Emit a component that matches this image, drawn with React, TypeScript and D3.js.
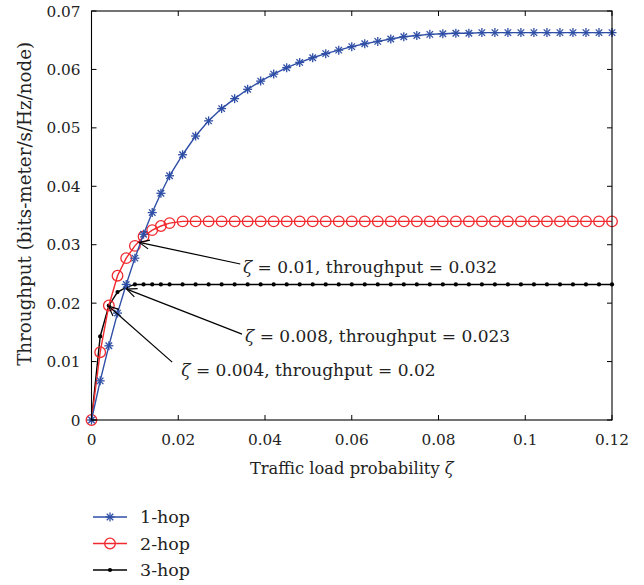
import React from 'react';
import * as d3 from 'd3';

// traffic load probability samples (x)
const loads = [
  0, 0.002, 0.004, 0.006, 0.008, 0.01, 0.012, 0.014, 0.016, 0.018,
  0.021, 0.024, 0.027, 0.03, 0.033, 0.036, 0.039, 0.042, 0.045, 0.048,
  0.051, 0.054, 0.057, 0.06, 0.063, 0.066, 0.069, 0.072, 0.075, 0.078,
  0.081, 0.084, 0.087, 0.09, 0.093, 0.096, 0.099, 0.102, 0.105, 0.108,
  0.111, 0.114, 0.117, 0.12,
];

const hop1 = [
  0, 0.0067, 0.0127, 0.0183, 0.0232, 0.0277, 0.0318, 0.0355, 0.0388, 0.0418,
  0.0454, 0.0486, 0.0512, 0.0533, 0.055, 0.0566, 0.058, 0.0592, 0.0603, 0.0612,
  0.062, 0.0627, 0.0633, 0.0639, 0.0644, 0.0648, 0.0652, 0.0656, 0.0658, 0.066,
  0.0661, 0.0662, 0.0662, 0.0663, 0.0663, 0.0663, 0.0663, 0.0663, 0.0663, 0.0663,
  0.0663, 0.0663, 0.0663, 0.0663,
];

const hop2 = [
  0, 0.0116, 0.0196, 0.0247, 0.0277, 0.0298, 0.0314, 0.0325, 0.0332, 0.0337,
  0.034, 0.034, 0.034, 0.034, 0.034, 0.034, 0.034, 0.034, 0.034, 0.034,
  0.034, 0.034, 0.034, 0.034, 0.034, 0.034, 0.034, 0.034, 0.034, 0.034,
  0.034, 0.034, 0.034, 0.034, 0.034, 0.034, 0.034, 0.034, 0.034, 0.034,
  0.034, 0.034, 0.034, 0.034,
];

const hop3 = [
  0, 0.0143, 0.0196, 0.0219, 0.0227, 0.0232, 0.0232, 0.0232, 0.0232, 0.0232,
  0.0232, 0.0232, 0.0232, 0.0232, 0.0232, 0.0232, 0.0232, 0.0232, 0.0232, 0.0232,
  0.0232, 0.0232, 0.0232, 0.0232, 0.0232, 0.0232, 0.0232, 0.0232, 0.0232, 0.0232,
  0.0232, 0.0232, 0.0232, 0.0232, 0.0232, 0.0232, 0.0232, 0.0232, 0.0232, 0.0232,
  0.0232, 0.0232, 0.0232, 0.0232,
];

const xTicks = [0, 0.02, 0.04, 0.06, 0.08, 0.1, 0.12];
const yTicks = [0, 0.01, 0.02, 0.03, 0.04, 0.05, 0.06, 0.07];
const seriesNames = ['1-hop', '2-hop', '3-hop'];

// annotation: arrow tip, arrow tail, text start (all in data units)
const notes = [
  { zeta: '0.01', tp: '0.032', tip: [0.011, 0.0304], tail: [0.0343, 0.0267], at: [0.0349, 0.0252] },
  { zeta: '0.008', tp: '0.023', tip: [0.0081, 0.0224], tail: [0.0347, 0.0147], at: [0.0354, 0.0134] },
  { zeta: '0.004', tp: '0.02', tip: [0.0039, 0.0195], tail: [0.0186, 0.0099], at: [0.0207, 0.0075] },
];

const W = 644;
const H = 585;
const margin = { top: 11, right: 32, bottom: 165, left: 91.5 };
const FONT = '"DejaVu Serif", serif';
const BLUE = '#2f4fa6';
const RED = '#f02a2e';
const TXT = '#222';

function Star({ x, y, color }) {
  const r = 4.5;
  const d = r * 0.72;
  return (
    <g stroke={color} strokeWidth={1.3}>
      <line x1={x - r} y1={y} x2={x + r} y2={y} />
      <line x1={x} y1={y - r} x2={x} y2={y + r} />
      <line x1={x - d} y1={y - d} x2={x + d} y2={y + d} />
      <line x1={x - d} y1={y + d} x2={x + d} y2={y - d} />
    </g>
  );
}

function Marker({ kind, x, y, color }) {
  if (kind === 'star') return <Star x={x} y={y} color={color} />;
  if (kind === 'circle') return <circle cx={x} cy={y} r={5.3} fill="none" stroke={color} strokeWidth={1.3} />;
  return <circle cx={x} cy={y} r={2.1} fill={color} />;
}

export default function App() {
  const x = d3.scaleLinear().domain([0, 0.12]).range([margin.left, W - margin.right]);
  const y = d3.scaleLinear().domain([0, 0.07]).range([H - margin.bottom, margin.top]);
  const [x0, x1] = x.range();
  const [y0, y1] = y.range();

  const series = [
    { name: seriesNames[0], values: hop1, color: BLUE, kind: 'star' },
    { name: seriesNames[1], values: hop2, color: RED, kind: 'circle' },
    { name: seriesNames[2], values: hop3, color: '#000', kind: 'dot' },
  ];

  const line = d3.line<number>()
    .x((_, i) => x(loads[i]))
    .y((d) => y(d));

  const tickLen = 5;

  return (
    <svg width={W} height={H} style={{ position: 'absolute', left: 0, top: 0, background: '#fff' }} fontFamily={FONT}>
      {/* 3-hop drawn first so stars/circles sit on top */}
      {[...series].reverse().map((s) => (
        <g key={s.name}>
          <path d={line(s.values) || ''} fill="none" stroke={s.color} strokeWidth={1.4} />
          {s.values.map((v, i) => (
            <Marker key={i} kind={s.kind} x={x(loads[i])} y={y(v)} color={s.color} />
          ))}
        </g>
      ))}

      {/* box + inward ticks */}
      <rect x={x0} y={y1} width={x1 - x0} height={y0 - y1} fill="none" stroke="#000" strokeWidth={1.1} />
      {xTicks.map((t) => (
        <g key={'xt' + t}>
          <line x1={x(t)} x2={x(t)} y1={y0} y2={y0 - tickLen} stroke="#000" />
          <line x1={x(t)} x2={x(t)} y1={y1} y2={y1 + tickLen} stroke="#000" />
          <text x={x(t)} y={y0 + 25} textAnchor="middle" fontSize={15.3} fill={TXT}>{String(t)}</text>
        </g>
      ))}
      {yTicks.map((t) => (
        <g key={'yt' + t}>
          <line x1={x0} x2={x0 + tickLen} y1={y(t)} y2={y(t)} stroke="#000" />
          <line x1={x1} x2={x1 - tickLen} y1={y(t)} y2={y(t)} stroke="#000" />
          <text x={x0 - 11} y={y(t) + 5.5} textAnchor="end" fontSize={15.3} fill={TXT}>{String(t)}</text>
        </g>
      ))}

      {/* axis titles */}
      <text x={(x0 + x1) / 2} y={y0 + 54} textAnchor="middle" fontSize={16.3} fill={TXT}>
        Traffic load probability <tspan fontStyle="italic">ζ</tspan>
      </text>
      <text transform={`translate(31,${y(0.037)}) rotate(-90)`} textAnchor="middle" fontSize={18.3} fill={TXT}>
        Throughput (bits-meter/s/Hz/node)
      </text>

      {/* annotations */}
      {notes.map((n, i) => {
        const tx = x(n.tip[0]);
        const ty = y(n.tip[1]);
        const sx = x(n.tail[0]);
        const sy = y(n.tail[1]);
        const ang = Math.atan2(sy - ty, sx - tx);
        const hl = 11;
        const spread = 0.42;
        return (
          <g key={'n' + i}>
            <line x1={sx} y1={sy} x2={tx} y2={ty} stroke="#000" strokeWidth={1.2} />
            <polyline
              points={`${tx + hl * Math.cos(ang - spread)},${ty + hl * Math.sin(ang - spread)} ${tx},${ty} ${tx + hl * Math.cos(ang + spread)},${ty + hl * Math.sin(ang + spread)}`}
              fill="none" stroke="#000" strokeWidth={1.2} />
            <text x={x(n.at[0])} y={y(n.at[1])} fontSize={17} fill={TXT}>
              <tspan fontStyle="italic">ζ</tspan> = {n.zeta}, throughput = {n.tp}
            </text>
          </g>
        );
      })}

      {/* legend */}
      {series.map((s, i) => {
        const ly = 517 + i * 26.5;
        return (
          <g key={'lg' + s.name}>
            <line x1={93} x2={127} y1={ly} y2={ly} stroke={s.color} strokeWidth={1.4} />
            <Marker kind={s.kind} x={110} y={ly} color={s.color} />
            <text x={140} y={ly + 6} fontSize={17.5} fill={TXT}>{s.name}</text>
          </g>
        );
      })}
    </svg>
  );
}
